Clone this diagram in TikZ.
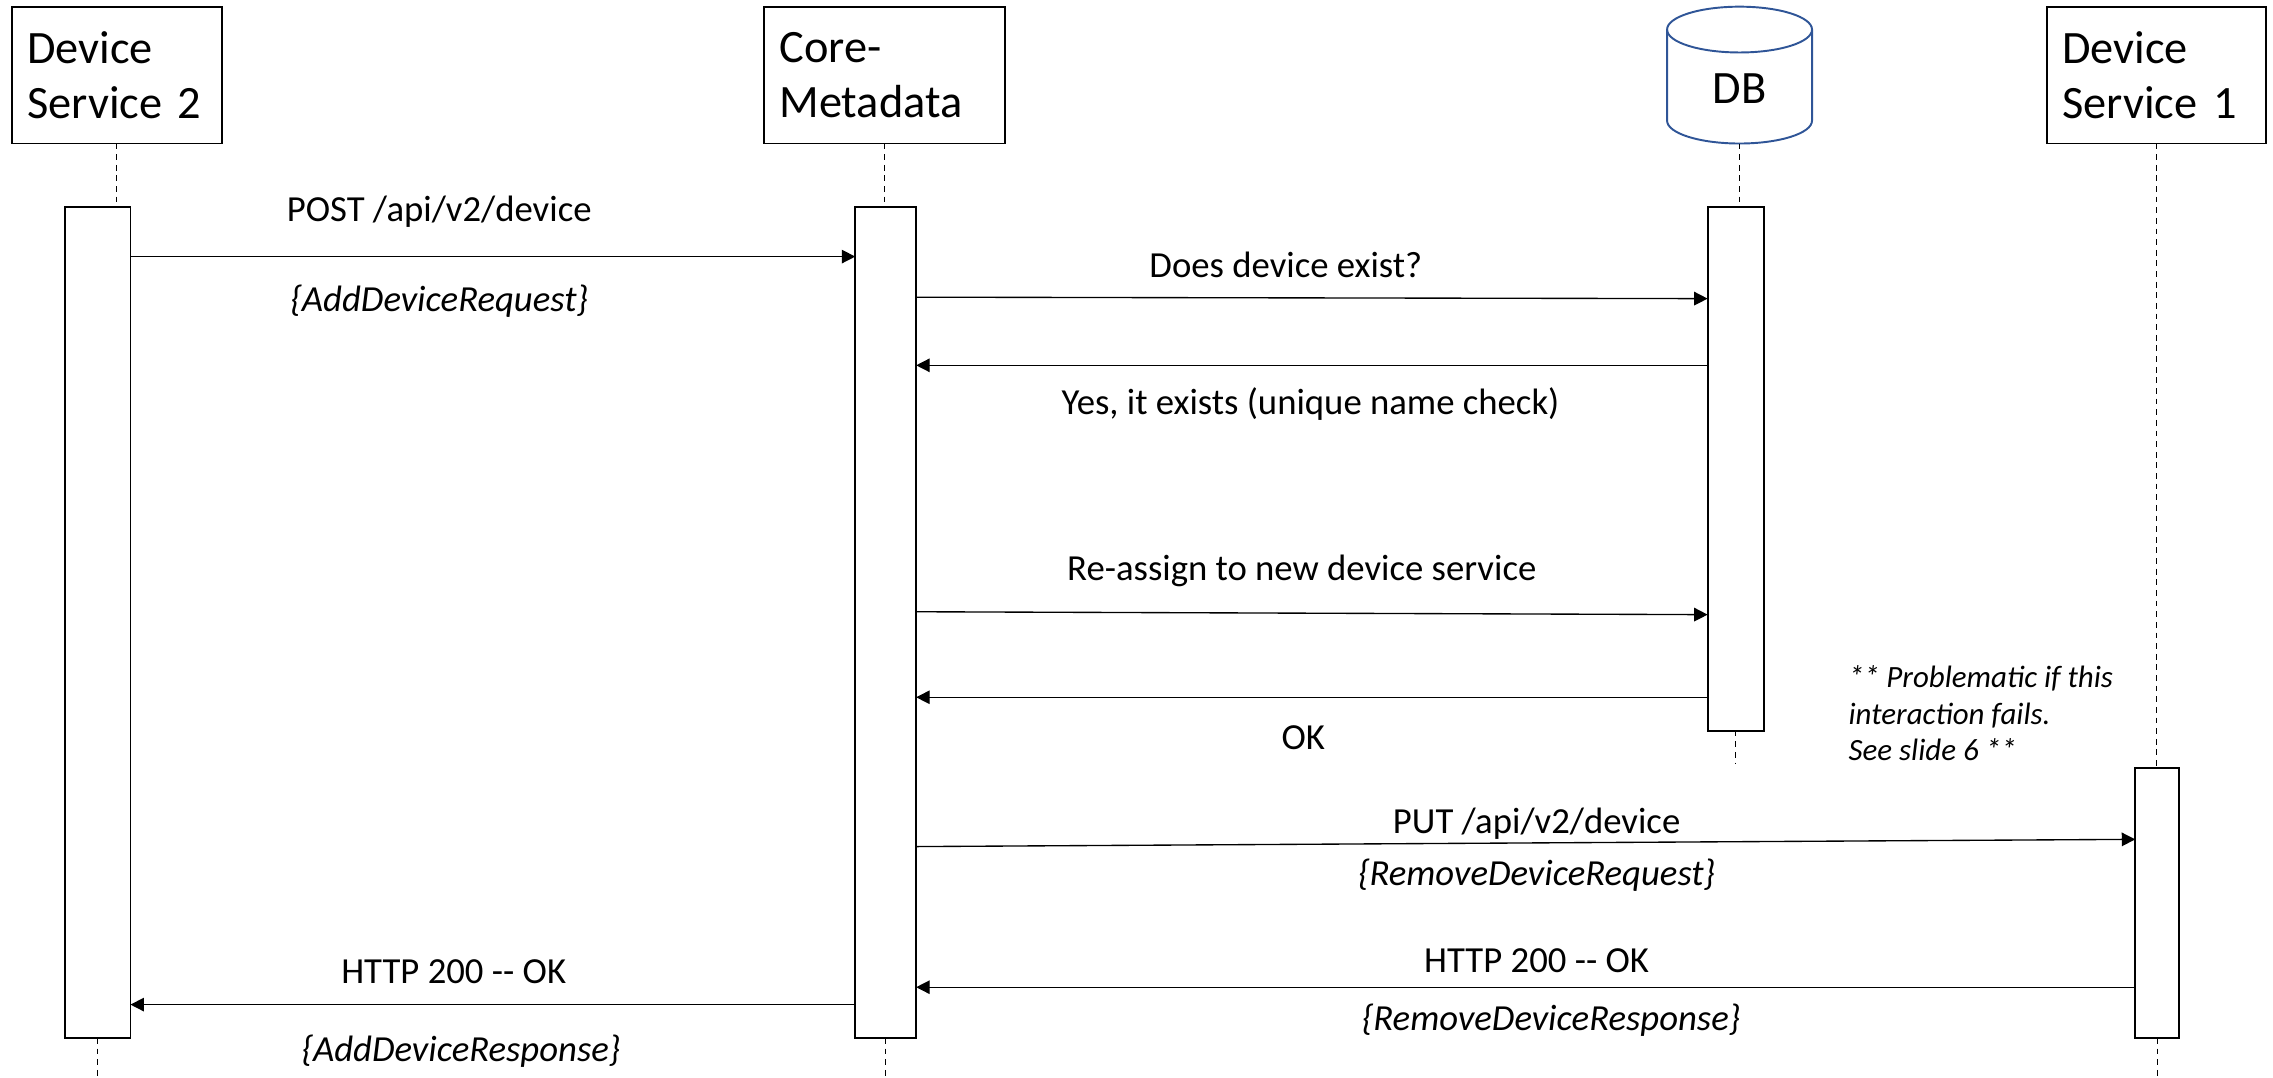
\documentclass[tikz,border=0pt]{standalone}
\usepackage{fontspec}
\setmainfont{Carlito}
\usepackage{tikz}
\usetikzlibrary{arrows.meta}
\definecolor{dbblue}{RGB}{47,85,151}

\begin{document}
\begin{tikzpicture}[x=0.75pt,y=-0.75pt,
	actor/.style={draw,line width=1pt,align=left,inner xsep=8pt,font=\fontsize{24}{28.5}\selectfont,outer sep=0pt},
	bar/.style={draw,line width=1pt,fill=white,outer sep=0pt},
	life/.style={line width=0.5pt,dash pattern=on 3pt off 2.5pt},
	msg/.style={line width=0.7pt,-{Triangle[length=7pt,width=7pt]}},
	dbline/.style={draw=dbblue,line width=1pt},
	lbl/.style={font=\fontsize{19}{22}\selectfont,inner sep=0pt},
	ilbl/.style={lbl,font=\fontsize{19}{22}\selectfont\itshape}]
	\useasboundingbox (0,0) rectangle (1568,743);
	\coordinate (bot) at (0,743);
	
	% actors
	\node (h2) [actor,text width=92.75pt,minimum height=70.5pt] at (80.5,52) {Device\\Service 2};
	\node (hcm) [actor,text width=108.5pt,minimum height=70.5pt] at (610,52) {Core-\\Metadata};
	\node (db) [inner sep=0pt,outer sep=0pt,minimum width=75pt,minimum height=70.8pt] at (1200,51.8) {};
	\draw [dbline] ([yshift=-11.85pt]db.north) ellipse [x radius=37.5pt,y radius=11.85pt];
	\draw [dbline] ([yshift=-11.85pt]db.north west) -- ([yshift=11.85pt]db.south west)
		arc [start angle=180,end angle=360,x radius=37.5pt,y radius=11.85pt] -- ([yshift=-11.85pt]db.north east);
	\node (dbl) [font=\fontsize{24}{28.5}\selectfont] at ([yshift=-6.9pt]db.center) {DB};
	\node (hds1) [actor,text width=97.25pt,minimum height=70.5pt] at (1487.5,52) {Device\\Service 1};
	
	% activation bars
	\node (a2) [bar,minimum width=33.75pt,minimum height=429.75pt] at (67.5,429.5) {};
	\node (acm) [bar,minimum width=31.5pt,minimum height=429.75pt] at (611,429.5) {};
	\node (adb) [bar,minimum width=29.25pt,minimum height=270.75pt] at (1197.5,323.5) {};
	\node (ads1) [bar,minimum width=22.5pt,minimum height=139.5pt] at (1488,623) {};
	
	% lifelines
	\draw [life] (h2.south) -- (h2.south |- a2.north);
	\draw [life] (a2.south) -- (a2.south |- bot);
	\draw [life] (hcm.south) -- (hcm.south |- acm.north);
	\draw [life] (acm.south) -- (acm.south |- bot);
	\draw [life] (db.south) -- (db.south |- adb.north);
	\draw [life] (adb.south) -- ++(0,23);
	\draw [life] (hds1.south) -- (hds1.south |- ads1.north);
	\draw [life] (ads1.south) -- (ads1.south |- bot);
	
	% messages
	\draw [msg] (a2.east |- 0,177) -- (acm.west |- 0,177);
	\draw [msg] (acm.east |- 0,205) -- (adb.west |- 0,206);
	\draw [msg] (adb.west |- 0,252) -- (acm.east |- 0,252);
	\draw [msg] (acm.east |- 0,422) -- (adb.west |- 0,424);
	\draw [msg] (adb.west |- 0,481) -- (acm.east |- 0,481);
	\draw [msg] (acm.east |- 0,584) -- (ads1.west |- 0,579);
	\draw [msg] (ads1.west |- 0,681) -- (acm.east |- 0,681);
	\draw [msg] (acm.west |- 0,693) -- (a2.east |- 0,693);
	
	% labels
	\node (l1) [lbl] at (303,146) {POST /api/v2/device};
	\node (l1b) [ilbl] at (303,208) {\{AddDeviceRequest\}};
	\node (l2) [lbl] at (887,183) {Does device exist?};
	\node (l3) [lbl] at (904,279) {Yes, it exists (unique name check)};
	\node (l4) [lbl] at (898,394) {Re-assign to new device service};
	\node (l5) [lbl] at (899,509) {OK};
	\node (l6) [lbl] at (1060,568) {PUT /api/v2/device};
	\node (l6b) [ilbl] at (1060,604) {\{RemoveDeviceRequest\}};
	\node (l7) [lbl] at (1060,663) {HTTP 200 {-}{-} OK};
	\node (l7b) [ilbl] at (1070,704) {\{RemoveDeviceResponse\}};
	\node (l8) [lbl] at (313,670) {HTTP 200 {-}{-} OK};
	\node (l8b) [ilbl] at (318,725) {\{AddDeviceResponse\}};
	\node (note) [anchor=west,align=left,inner sep=0pt,font=\fontsize{16}{19}\selectfont\itshape]
		at (1275,492) {** Problematic if this\\interaction fails.\\See slide 6 **};
	
\end{tikzpicture}
\end{document}
